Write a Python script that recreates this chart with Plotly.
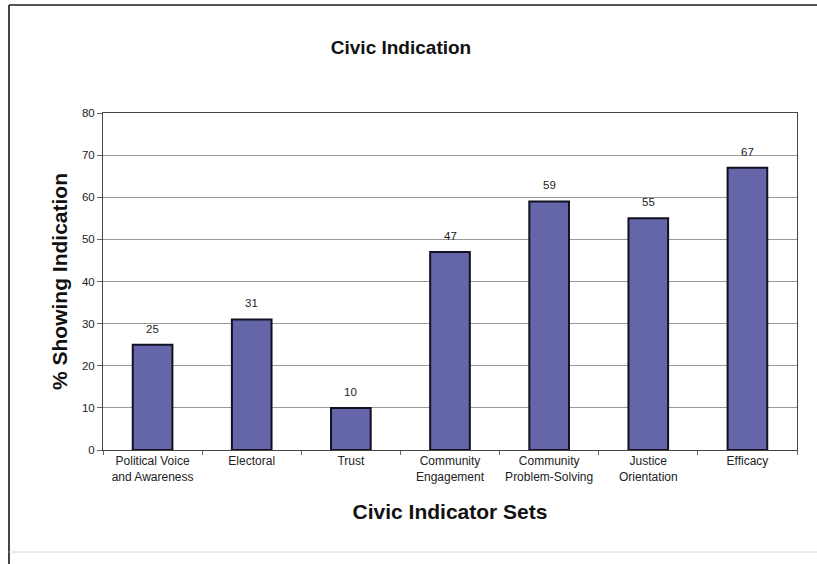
import plotly.graph_objects as go

categories = [
    "Political Voice<br>and Awareness",
    "Electoral",
    "Trust",
    "Community<br>Engagement",
    "Community<br>Problem-Solving",
    "Justice<br>Orientation",
    "Efficacy",
]
values = [25, 31, 10, 47, 59, 55, 67]
y_ticks = [0, 10, 20, 30, 40, 50, 60, 70, 80]

FONT = "Arial, Liberation Sans, sans-serif"

fig = go.Figure(
    go.Bar(
        x=categories,
        y=values,
        marker=dict(color="#6565A9", line=dict(color="#111122", width=2)),
        width=0.4,
    )
)

# Value labels above each bar
for cat, val in zip(categories, values):
    fig.add_annotation(
        x=cat, y=val, text=str(val), showarrow=False,
        yanchor="middle", yshift=16,
        font=dict(family=FONT, size=11.5, color="#222"),
    )

fig.update_layout(
    width=817,
    height=564,
    margin=dict(l=103, r=20, t=113, b=114),
    paper_bgcolor="white",
    plot_bgcolor="white",
    showlegend=False,
    title=dict(
        text="<b>Civic Indication</b>",
        x=401 / 817,
        xanchor="center",
        xref="container",
        y=1 - 47 / 564,
        yanchor="middle",
        font=dict(family=FONT, size=19, color="#111"),
    ),
    font=dict(family=FONT, color="#222"),
)

fig.update_xaxes(
    showline=True,
    linecolor="#444",
    linewidth=1,
    mirror=True,
    ticks="outside",
    tickson="boundaries",
    ticklen=4,
    tickcolor="#666",
    tickfont=dict(family=FONT, size=12, color="#222"),
    title=dict(
        text="<b>Civic Indicator Sets</b>",
        font=dict(family=FONT, size=21, color="#111"),
        standoff=21,
    ),
)

fig.update_yaxes(
    range=[0, 80],
    tickvals=y_ticks,
    showgrid=True,
    gridcolor="#9a9a9a",
    gridwidth=1,
    showline=True,
    linecolor="#444",
    linewidth=1,
    mirror=True,
    ticks="outside",
    ticklen=5,
    tickcolor="#666",
    tickfont=dict(family=FONT, size=11.5, color="#222"),
    title=dict(
        text="<b>% Showing Indication</b>",
        font=dict(family=FONT, size=21, color="#111"),
        standoff=8,
    ),
    zeroline=False,
)

# Outer frame around the chart
fig.add_shape(
    type="line", xref="paper", yref="paper",
    x0=(9 - 103) / 694, x1=(820 - 103) / 694,
    y0=(450 - 5) / 337, y1=(450 - 5) / 337,
    line=dict(color="#555", width=2),
)
fig.add_shape(
    type="line", xref="paper", yref="paper",
    x0=(9 - 103) / 694, x1=(9 - 103) / 694,
    y0=(450 - 5) / 337, y1=(450 - 566) / 337,
    line=dict(color="#444", width=2),
)
fig.add_shape(
    type="line", xref="paper", yref="paper",
    x0=(9 - 103) / 694, x1=(820 - 103) / 694,
    y0=(450 - 552) / 337, y1=(450 - 552) / 337,
    line=dict(color="#d8d8d8", width=1),
)

fig.write_html("out.html")
